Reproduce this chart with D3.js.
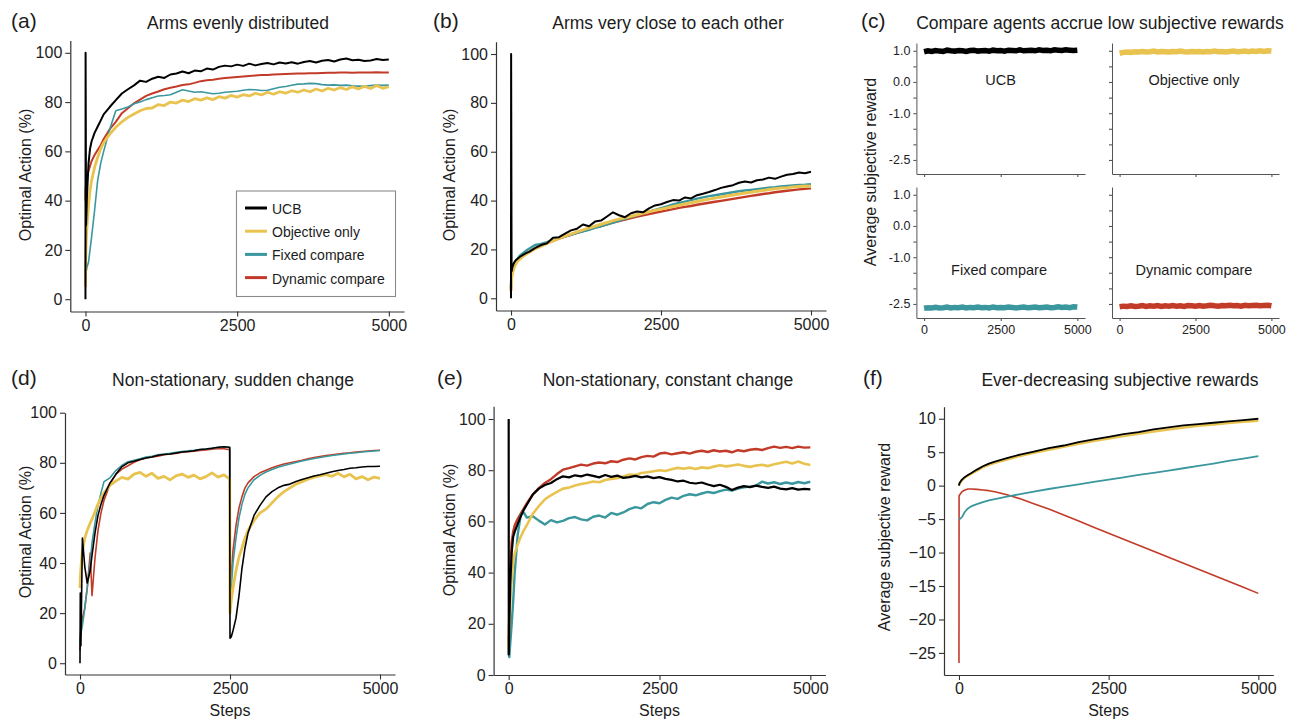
<!DOCTYPE html>
<html>
<head>
<meta charset="utf-8">
<script src="https://cdn.jsdelivr.net/npm/d3@7"></script>
<style>
  body { margin: 0; background: #fff; }
  text { font-family: Helvetica, "Liberation Sans", Arial, sans-serif; fill: #1c1c1c; }
</style>
</head>
<body>
<svg id="fig" width="1302" height="719"></svg>
<script>
// ---- data ----
var agents = ["UCB", "Objective only", "Fixed compare", "Dynamic compare"];
var agentColors = ["#000000", "#E9C34F", "#3A979D", "#C23B28"];

var steps = [0,2,10,25,50,75,100,150,200,250,300,400,500,600,700,800,900,1000,
  1100,1200,1300,1400,1500,1600,1700,1800,1900,2000,2100,2200,2300,2400,2500,2600,2700,2800,2900,3000,
  3100,3200,3300,3400,3500,3600,3700,3800,3900,4000,4100,4200,4300,4400,4500,4600,4700,4800,4900,5000];

// (a) arms evenly distributed
var aUcb = [0,100,30,42,55,61,64,67.5,70,72.5,75,78,80.8,83.5,85.2,86.8,88.7,88.2,
  89.5,90.3,89.8,91.2,91.6,92.4,91.7,92.8,92.5,93.6,93.2,94.3,94.8,94.5,95.2,94.7,95.6,94.9,95.5,95.9,
  95.3,96.1,95.7,96.2,95.6,96.3,96.7,96.1,96.8,97.1,96.5,97.3,97.7,97.0,97.2,96.7,96.9,97.5,97.1,97.3];
var aObj = [5,15,22,30,38,44,48,53.5,57.5,61,63.5,67,69.8,72,73.8,75.2,76.5,77.4,
  77.6,79,78.6,80,79.6,80.8,80.2,81.4,80.8,81.7,81,82.2,81.6,82.7,82,83,82.5,83.6,82.9,84,
  83.2,84.2,83.6,84.6,84,84.9,84.2,85.3,84.5,85.6,84.9,85.9,85.1,86.2,85.3,86.4,85.5,86.7,85.6,86.3];
var aFix = [5,8,11,13,15,20,25,36,48,55,60,69,76.5,77.2,78,79.3,80,81,
  81.8,82.5,82.7,83,84,85,84.5,84,84.2,83.8,83.4,83.6,84,84.2,84.4,84.8,85.1,85,84.7,84.8,
  85.4,86,86.3,86.8,87.3,87.4,87.6,87.5,87.1,86.9,87,86.8,86.9,86.6,86.5,86.4,86.7,86.9,86.8,86.9];
var aDyn = [40,45,47,50,52,54,56,58.5,60.5,62.5,65,69,72,75.5,77.5,79.5,81,82.5,
  83.5,84.3,85.2,85.8,86.3,86.9,87.2,87.8,88.5,88.9,89.1,89.5,89.8,90,90.2,90.4,90.6,90.8,91,91,
  91.2,91.3,91.4,91.5,91.6,91.6,91.7,91.7,91.8,91.9,91.9,92,92,91.9,92,92,92,92.1,92,92];

// (b) arms very close to each other
var bUcb = [0,100,11,13,14.5,15.5,16,17,17.8,18.5,19,20.5,21.8,22.5,24.8,25,26.5,27.8,
  28.5,30.2,29.5,31.4,31.8,33.5,35.2,34,33.2,34.8,35.5,35.2,36.8,38,38.5,39.4,40.2,40,41.3,40.9,
  42.2,42.8,43.5,44.3,45.2,45.8,46.3,47.3,47.8,47.4,48.3,48.6,49.4,48.9,49.8,50.6,50.9,51.5,51.2,51.8];
var bObj = [3,5,8,10.5,12.5,13.8,15,16.2,17.2,18,18.8,20.3,21.3,22.5,23.5,24.5,25.5,26.3,
  27.2,28,28.8,29.5,30.3,31,31.8,32.4,33,33.6,34.2,34.8,35.4,36,36.5,37,37.6,38.1,38.6,39.1,
  39.6,40.1,40.6,41,41.5,41.9,42.3,42.7,43.1,43.4,43.8,44.1,44.5,44.8,45.1,45.3,45.6,45.8,46,45.9];
var bFix = [4,7,10,12,13.5,15,16,17.5,18.5,19.5,20.3,21.8,22.3,23,23.8,24.6,25.4,26,
  26.8,27.4,28,28.8,29.5,30.3,31,31.8,32.5,33.3,34,34.8,35.5,36.2,36.9,37.6,38.4,39,39.6,40.2,
  40.8,41.3,41.8,42.2,42.6,43,43.4,43.8,44.1,44.4,44.7,45,45.3,45.5,45.8,46,46.2,46.4,46.5,46.7];
var bDyn = [3,6,9,11,13,14.2,15.2,16.5,17.5,18.3,19,20.5,21.6,22.6,23.5,24.4,25.2,26,
  26.8,27.5,28.2,29,29.6,30.3,31,31.6,32.2,32.8,33.4,34,34.5,35,35.5,36,36.5,37,37.4,37.8,
  38.3,38.7,39.1,39.5,39.9,40.3,40.7,41.1,41.5,41.9,42.3,42.7,43,43.4,43.7,44,44.3,44.6,44.8,45];

// (c) subjective reward per agent
var stepsC = [0,125,250,375,500,625,750,875,1000,1125,1250,1375,1500,1625,1750,1875,2000,2125,2250,2375,2500,
  2625,2750,2875,3000,3125,3250,3375,3500,3625,3750,3875,4000,4125,4250,4375,4500,4625,4750,4875,5000];
var cUcb = [0.97,1.0,0.98,1.01,0.99,0.98,1.02,1.0,0.99,1.01,1.0,0.98,1.01,1.02,0.99,1.0,1.01,0.99,1.02,1.0,1.01,
  0.99,1.02,1.01,1.0,1.03,1.0,1.01,1.02,1.0,1.03,1.01,1.02,1.0,1.03,1.02,1.01,1.03,1.02,1.01,1.02];
var cObj = [0.92,0.95,0.96,0.95,0.97,0.96,0.98,0.96,0.97,0.99,0.96,0.98,0.97,0.96,0.98,0.97,0.99,0.97,0.96,0.98,0.97,
  0.98,0.96,0.98,0.97,0.99,0.97,0.98,0.96,0.98,0.99,0.97,0.98,0.99,0.97,0.99,0.98,1.0,0.98,1.0,0.99];
var cFix = [-2.64,-2.62,-2.63,-2.61,-2.63,-2.62,-2.6,-2.63,-2.61,-2.62,-2.6,-2.63,-2.61,-2.62,-2.6,-2.62,-2.61,-2.63,-2.6,-2.62,-2.61,
  -2.62,-2.6,-2.61,-2.63,-2.61,-2.6,-2.62,-2.61,-2.6,-2.62,-2.61,-2.6,-2.62,-2.61,-2.59,-2.61,-2.6,-2.62,-2.59,-2.6];
var cDyn = [-2.59,-2.57,-2.58,-2.56,-2.58,-2.57,-2.55,-2.58,-2.56,-2.57,-2.55,-2.58,-2.56,-2.57,-2.55,-2.57,-2.56,-2.58,-2.55,-2.56,-2.57,
  -2.55,-2.57,-2.56,-2.54,-2.56,-2.57,-2.55,-2.56,-2.54,-2.56,-2.55,-2.57,-2.54,-2.56,-2.55,-2.54,-2.56,-2.55,-2.54,-2.56];

// (d) non-stationary, sudden change
var stepsD = [0,5,15,40,80,120,170,200,250,300,350,400,
  500,600,700,800,900,1000,1100,1200,1300,1400,1500,1600,1700,1800,1900,2000,2100,2200,2300,2400,
  2495,2500,2520,2550,2600,2650,2700,2750,2800,
  2900,3000,3100,3200,3300,3400,3500,3600,3700,3800,3900,4000,4100,4200,4300,4400,4500,4600,4700,4800,4900,5000];
var dUcb = [0,28,7,50,38.5,32,37,43,52,59,63.5,67,
  72,75.5,78.5,80,80.6,81.3,81.9,82.3,83,83.3,83.5,83.9,84.3,84.5,84.8,85.3,85.5,85.8,86.2,86.4,
  86.2,10,10.5,13,18,27,38,46,52,
  59,63,66.4,68.5,70,71,71.5,72.5,73.3,74,74.7,75.2,75.8,76.4,76.9,77.3,77.8,78,78.3,78.5,78.5,78.6];
var dObj = [30,34,38,45,50,53,56,57.5,60.5,63.5,66,68,
  71,72.8,74.2,73.5,75.5,76.2,74.6,75.8,73.8,74.6,73.2,74.8,75.5,74.2,75.1,73.6,74.5,76,74.3,75.2,
  73.5,20,25,30,37,42.5,46,50,53,
  57,60,61.5,64,66.5,68.5,70,71.5,72.5,73.5,74.3,74.8,75.3,74.6,75.8,74.4,75.4,73.6,74.5,73.2,74.3,73.8];
var dFix = [8,10,12,15,22,30,40,48,56,63,68,72.5,
  74,77,79,80.4,81,81.6,82.3,82.6,83.2,83.5,83.8,84.2,84.5,84.8,85,85.3,85.5,85.8,86.1,86.4,
  86,25,30,40,50,58,63.5,67.5,70,
  73.2,75,76.3,77.3,78.2,78.9,79.5,80.1,80.7,81.2,81.7,82.1,82.5,82.9,83.2,83.5,83.8,84,84.3,84.5,84.7,84.9];
var dDyn = [5,10,14,18,22,30,44,27,42,53,60,65,
  71.5,75.5,77.5,78.8,80.2,81.2,81.9,82.3,82.6,83.2,83.5,83.7,84.2,84.4,84.6,84.9,85.1,85.4,85.7,85.6,
  85.2,22,35,45,55,62,66.5,70,72,
  74.5,76,77,78,78.8,79.5,80,80.5,81,81.6,82.1,82.5,82.9,83.2,83.5,83.8,84,84.3,84.5,84.7,84.9,85];

// (e) non-stationary, constant change
var eUcb = [100,8,20,35,48,54,56,59,62,64.5,66.5,70.5,72.8,74.2,75,76.5,77.6,77.2,
  78,77.6,78.3,77.8,77.2,78.1,77.4,77.9,77,77.3,77.8,77.2,77.6,76.9,77.3,76.6,76.2,75.6,75.9,75.1,
  74.8,75.2,74.4,73.8,74.3,73.5,72.3,73.2,73.8,73.4,74,73.5,73.1,73.6,72.8,72.5,73,72.4,72.7,72.5];
var eObj = [10,15,20,28,38,44,47.5,51,54,56.5,58.5,63,66,68.6,70.2,71.5,72.8,73.2,
  74,74.6,75,75.6,75.3,76.2,76.6,76.9,77.5,78.3,78.1,78.9,79.2,79.6,80,79.7,80.4,80.9,80.6,81,
  80.5,81.1,80.8,81.4,81.9,81.5,81.8,82.2,81.7,81.3,81.8,82.1,81.6,82.3,82.8,83.3,82.6,83.4,82.5,82];
var eFix = [12,8,7,12,20,29,40,55,62.5,63.5,61.5,62,60.3,58.8,60.5,59.6,60.2,61.3,
  61.7,60.8,60.4,61.8,62.3,61.5,63.3,62.6,63.5,64.8,65.6,65.1,66.8,67.5,67.1,68.4,69.3,68.8,70,70.6,
  70.2,70.9,71.5,71.1,71.8,72.4,72,72.8,73.3,73.6,74,75.5,74.8,75.3,74.6,75.2,74.7,75.4,74.9,75.5];
var eDyn = [15,12,25,40,52,56,58.5,61,63,65,67,70.5,73,75,76.5,78.5,80.2,80.8,
  81.5,82.2,81.8,82.6,83,82.7,83.5,83.2,84.1,84.6,84.2,85.1,85.6,85.3,86.5,86.8,86.2,86.6,87,86.5,
  87.2,87.6,87.1,87.8,87.3,87.6,87,87.8,87.4,88,88.3,87.9,88.6,89.2,88.7,89.1,88.6,89.2,88.8,88.9];

// (f) ever-decreasing subjective rewards
var stepsF = [0,2,10,25,50,100,150,200,300,400,500,600,800,1000,1250,1500,1750,2000,2250,2500,
  2750,3000,3250,3500,3750,4000,4250,4500,4750,5000];
var fUcb = [0,0.1,0.4,0.6,0.9,1.3,1.6,1.85,2.4,2.9,3.3,3.6,4.1,4.6,5.1,5.6,6,6.5,6.9,7.3,
  7.7,8,8.4,8.7,9,9.2,9.4,9.6,9.8,10];
var fObj = [0,0.1,0.3,0.5,0.8,1.2,1.5,1.75,2.25,2.75,3.1,3.4,3.9,4.4,4.9,5.35,5.8,6.25,6.65,7.05,
  7.4,7.75,8.1,8.4,8.7,8.95,9.15,9.35,9.55,9.7];
var fFix = [-5,-5,-5,-4.9,-4.7,-3.9,-3.4,-3.1,-2.75,-2.45,-2.2,-2,-1.65,-1.3,-0.9,-0.5,-0.15,0.2,0.55,0.9,
  1.25,1.6,1.9,2.25,2.6,2.95,3.3,3.7,4.05,4.4];
var fDyn = [-26.5,-1.5,-1.4,-1.2,-0.9,-0.65,-0.5,-0.5,-0.55,-0.65,-0.75,-0.9,-1.35,-1.9,-2.7,-3.5,-4.4,-5.3,-6.2,-7.1,
  -8,-8.9,-9.8,-10.7,-11.6,-12.5,-13.4,-14.3,-15.2,-16.1];

var stepTicks = [0, 2500, 5000];
var pctTicks = [0, 20, 40, 60, 80, 100];
var rewardTicks = [-25, -20, -15, -10, -5, 0, 5, 10];
var subjTicks = [1.0, 0.5, 0.0, -0.5, -1.0, -1.5, -2.0, -2.5];
var subjLabels = [1.0, 0.0, -1.0, -2.5];

var titles = ["Arms evenly distributed", "Arms very close to each other", "Compare agents accrue low subjective rewards",
  "Non-stationary, sudden change", "Non-stationary, constant change", "Ever-decreasing subjective rewards"];

// ---- drawing ----
var svg = d3.select("#fig");

function styleAxis(a, col, fs) {
  a.attr("font-family", null).attr("font-size", fs);
  a.select(".domain").attr("stroke", col).attr("stroke-width", 1.2);
  a.selectAll(".tick line").attr("stroke", col).attr("stroke-width", 1.1);
  a.selectAll(".tick text").style("fill", "#222");
}

function drawLines(g, x, y, xs, series, widths) {
  // red, teal, yellow, black (black ends on top)
  [3, 2, 1, 0].forEach(function(k) {
    var line = d3.line().x(function(d, i) { return x(xs[i]); }).y(function(d) { return y(d); });
    g.append("path")
      .attr("d", line(series[k]))
      .attr("fill", "none")
      .attr("stroke", agentColors[k])
      .attr("stroke-width", widths[k])
      .attr("stroke-linejoin", "round");
  });
}

function panel(p) {
  var g = svg.append("g");
  var x = d3.scaleLinear().domain([-250, 5250]).range(p.xr);
  var y = d3.scaleLinear().domain(p.yd).range(p.yr);

  var xa = g.append("g").attr("transform", "translate(0," + p.yr[0] + ")")
    .call(d3.axisBottom(x).tickValues(stepTicks).tickSize(5).tickSizeOuter(0).tickPadding(3).tickFormat(d3.format("d")));
  styleAxis(xa, "#333", 16);
  var ya = g.append("g").attr("transform", "translate(" + p.xr[0] + ",0)")
    .call(d3.axisLeft(y).tickValues(p.yt).tickSize(5).tickSizeOuter(0).tickPadding(3).tickFormat(d3.format("d")));
  styleAxis(ya, "#333", 16);

  drawLines(g, x, y, p.xs, p.series, p.widths);

  g.append("text").attr("x", p.lx).attr("y", p.ty - 1).attr("font-size", 21).text(p.tag);
  g.append("text").attr("x", p.tx).attr("y", p.ty).attr("text-anchor", "middle").attr("font-size", 17.5).text(p.title);
  g.append("text")
    .attr("transform", "translate(" + p.yl[0] + "," + p.yl[1] + ") rotate(-90)")
    .attr("dy", "0.35em").attr("text-anchor", "middle").attr("font-size", 16).text(p.ylab);
  if (p.xlab) {
    g.append("text").attr("x", (p.xr[0] + p.xr[1]) / 2).attr("y", 716)
      .attr("text-anchor", "middle").attr("font-size", 16).text("Steps");
  }
  return { g: g, x: x, y: y };
}

var pa = panel({ tag: "(a)", title: titles[0], lx: 11, tx: 238, ty: 29, xr: [70.3, 404], yr: [311.5, 40.5], yd: [-5, 105],
  yt: pctTicks, xs: steps, series: [aUcb, aObj, aFix, aDyn], widths: [2, 2.8, 1.6, 2],
  ylab: "Optimal Action (%)", yl: [25, 175] });
panel({ tag: "(b)", title: titles[1], lx: 433, tx: 668, ty: 29, xr: [496, 826], yr: [310.5, 41.8], yd: [-5, 105],
  yt: pctTicks, xs: steps, series: [bUcb, bObj, bFix, bDyn], widths: [2, 3, 2.4, 2.4],
  ylab: "Optimal Action (%)", yl: [449, 175] });
panel({ tag: "(d)", title: titles[3], lx: 11, tx: 233, ty: 386, xr: [65, 395], yr: [674.5, 412.7], yd: [-4.5, 100],
  yt: pctTicks, xs: stepsD, series: [dUcb, dObj, dFix, dDyn], widths: [1.6, 2.8, 1.6, 1.6],
  ylab: "Optimal Action (%)", yl: [25, 532], xlab: true });
panel({ tag: "(e)", title: titles[4], lx: 437, tx: 668, ty: 386, xr: [493.6, 825.4], yr: [675, 406.2], yd: [0, 105],
  yt: pctTicks, xs: steps, series: [eUcb, eObj, eFix, eDyn], widths: [2.2, 2.6, 2.4, 2.4],
  ylab: "Optimal Action (%)", yl: [449, 530], xlab: true });
panel({ tag: "(f)", title: titles[5], lx: 863, tx: 1120, ty: 386, xr: [944, 1273.3], yr: [675, 406.7], yd: [-28.3, 11.8],
  yt: rewardTicks, xs: stepsF, series: [fUcb, fObj, fFix, fDyn], widths: [1.8, 2.4, 1.8, 1.6],
  ylab: "Average subjective reward", yl: [884, 537], xlab: true });

// legend in (a)
var lg = pa.g.append("g");
lg.append("rect").attr("x", 236.5).attr("y", 191).attr("width", 159).attr("height", 105.5)
  .attr("fill", "#fff").attr("stroke", "#8a8a8a").attr("stroke-width", 1.1);
agents.forEach(function(name, i) {
  var ly = 208 + i * 23.2;
  lg.append("line").attr("x1", 245).attr("x2", 267).attr("y1", ly).attr("y2", ly)
    .attr("stroke", agentColors[i]).attr("stroke-width", 3);
  lg.append("text").attr("x", 272).attr("y", ly + 1).attr("dy", "0.35em").attr("font-size", 14).text(name);
});

// (c) four small panels
var cSeries = [cUcb, cObj, cFix, cDyn];
var cBoxes = [
  { xr: [916.4, 1085], yr: [174, 43], ylab: true, xlab: false },
  { xr: [1112, 1279], yr: [174, 43], ylab: false, xlab: false },
  { xr: [916.4, 1085], yr: [318, 187], ylab: true, xlab: true },
  { xr: [1112, 1279], yr: [318, 187], ylab: false, xlab: true }
];
var cNamePos = [[1000.5, 80], [1194, 80], [999, 270], [1194, 270]];
cBoxes.forEach(function(b, k) {
  var g = svg.append("g");
  var x = d3.scaleLinear().domain([-250, 5250]).range(b.xr);
  var y = d3.scaleLinear().domain([-2.95, 1.25]).range(b.yr);
  var xa = g.append("g").attr("transform", "translate(0," + b.yr[0] + ")")
    .call(d3.axisBottom(x).tickValues(stepTicks).tickSize(3).tickSizeOuter(0).tickPadding(4)
      .tickFormat(b.xlab ? d3.format("d") : ""));
  styleAxis(xa, "#555", 12.5);
  var ya = g.append("g").attr("transform", "translate(" + b.xr[0] + ",0)")
    .call(d3.axisLeft(y).tickValues(subjTicks).tickSize(3).tickSizeOuter(0).tickPadding(3)
      .tickFormat(function(v) { return b.ylab && subjLabels.indexOf(v) >= 0 ? v.toFixed(1) : ""; }));
  styleAxis(ya, "#555", 12.5);
  xa.select(".domain").attr("stroke-width", 1);
  ya.select(".domain").attr("stroke-width", 1);

  // dense noisy trace drawn as a thick band
  var line = d3.line().x(function(d, i) { return x(stepsC[i]); }).y(function(d) { return y(d); });
  g.append("path").attr("d", line(cSeries[k])).attr("fill", "none")
    .attr("stroke", agentColors[k]).attr("stroke-width", 5.5).attr("stroke-linejoin", "miter");
  g.append("text").attr("x", cNamePos[k][0]).attr("y", cNamePos[k][1]).attr("dy", "0.35em")
    .attr("text-anchor", "middle").attr("font-size", 14.5).text(agents[k]);
});
svg.append("text").attr("x", 861).attr("y", 28).attr("font-size", 21).text("(c)");
svg.append("text").attr("x", 1100).attr("y", 29).attr("text-anchor", "middle").attr("font-size", 17.5).text(titles[2]);
svg.append("text").attr("transform", "translate(870,172) rotate(-90)").attr("dy", "0.35em")
  .attr("text-anchor", "middle").attr("font-size", 16).text("Average subjective reward");
</script>
</body>
</html>
